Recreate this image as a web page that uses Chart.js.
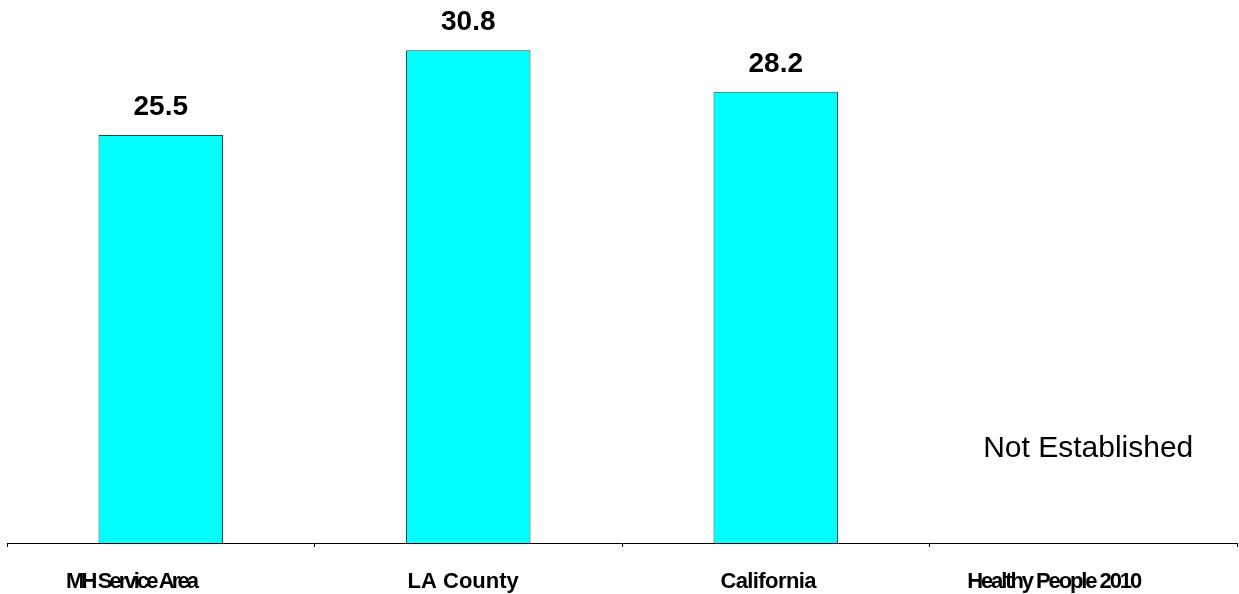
<!DOCTYPE html>
<html lang="en">
<head>
    <meta charset="UTF-8">
    <title>MH Service Area comparison</title>
    <script src="https://cdn.jsdelivr.net/npm/chart.js"></script>
    <style>
        body { margin: 0; background: white; }
        #wrap { width: 1239px; height: 594px; }
    </style>
</head>
<body>
    <div id="wrap"><canvas id="chart" width="1239" height="594"></canvas></div>

    <script>
        // data
        const categories = ['MH Service Area', 'LA County', 'California', 'Healthy People 2010'];
        const values = [25.5, 30.8, 28.2, null];
        const valueLabels = ['25.5', '30.8', '28.2', ''];
        const noteText = 'Not Established';

        const FONT = 'Arial, "Liberation Sans", sans-serif';
        // the source renders some category labels squeezed together
        const labelSpacing = [-2.9, 0, -0.6, -2.1];

        const barLabels = {
            id: 'barLabels',
            afterDatasetsDraw(chart) {
                const ctx = chart.ctx;
                const meta = chart.getDatasetMeta(0);
                const xs = chart.scales.x;
                ctx.save();
                ctx.fillStyle = '#000';
                ctx.textAlign = 'center';
                ctx.textBaseline = 'alphabetic';
                ctx.font = 'bold 28px ' + FONT;
                meta.data.forEach((bar, i) => {
                    if (values[i] == null) return;
                    ctx.fillText(valueLabels[i], bar.x, bar.y - 20);
                });

                // note for the category with no value
                const n = values.indexOf(null);
                ctx.font = '30px ' + FONT;
                ctx.textBaseline = 'middle';
                ctx.fillText(noteText, xs.getPixelForValue(n) + 5, chart.scales.y.getPixelForValue(5.9));

                // category labels under the axis
                ctx.textAlign = 'left';
                ctx.textBaseline = 'alphabetic';
                const yText = xs.top + 45;
                categories.forEach((c, i) => {
                    const cx = xs.getPixelForValue(i);
                    ctx.font = 'bold 24px ' + FONT;
                    ctx.letterSpacing = '0px';
                    const start = cx - ctx.measureText(c).width / 2;
                    ctx.font = 'bold 22px ' + FONT;
                    ctx.letterSpacing = labelSpacing[i] + 'px';
                    ctx.fillText(c, start, yText);
                });
                ctx.letterSpacing = '0px';
                ctx.restore();
            }
        };

        new Chart(document.getElementById('chart'), {
            type: 'bar',
            data: {
                labels: categories,
                datasets: [{
                    data: values,
                    backgroundColor: '#00FFFF',
                    borderColor: '#1f4d4d',
                    borderWidth: 1,
                    categoryPercentage: 1,
                    barPercentage: 0.405
                }]
            },
            options: {
                responsive: false,
                animation: false,
                layout: { padding: { left: 7, right: 2, top: 15, bottom: 47 } },
                plugins: {
                    legend: { display: false },
                    tooltip: { enabled: false }
                },
                scales: {
                    y: { display: false, min: 0, max: 33 },
                    x: {
                        grid: {
                            display: true,
                            drawOnChartArea: false,
                            drawTicks: true,
                            tickLength: 4,
                            color: '#000',
                            offset: true
                        },
                        border: { display: true, color: '#000', width: 1 },
                        ticks: { display: false }
                    }
                }
            },
            plugins: [barLabels]
        });
    </script>
</body>
</html>
